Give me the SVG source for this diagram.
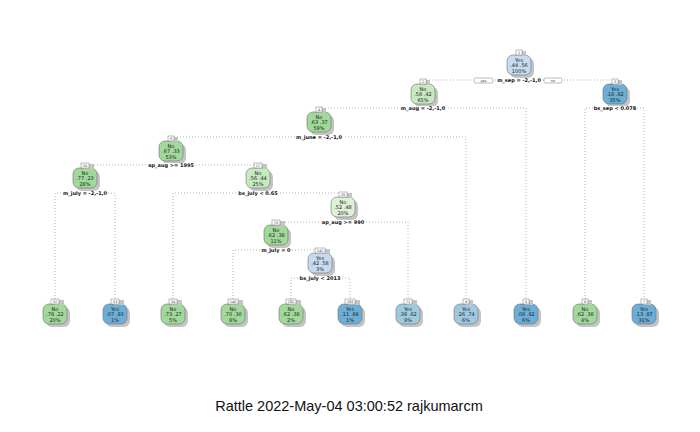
<svg xmlns="http://www.w3.org/2000/svg" width="700" height="432" viewBox="0 0 700 432">
<style>
text{font-family:"DejaVu Sans","Liberation Sans",sans-serif;fill:#222}
.t{font-size:5px;text-anchor:middle}
.s{font-size:5px;font-weight:bold;text-anchor:middle;fill:#111}
.n{font-size:3.5px;text-anchor:middle;fill:#444}
.sh{fill:#c4c4c4}
.bx{stroke:#6e6e6e;stroke-width:0.6}
.nb{fill:#fff;stroke:#777;stroke-width:0.5}
.nbs{fill:#c4c4c4}
.ln{fill:none;stroke:#a0a0a0;stroke-width:0.8;stroke-dasharray:1,2}
.bg{fill:#fff}
.g1{fill:#a1d99b}.g2{fill:#c7e9c0}.g3{fill:#dcf1d6}
.b1{fill:#6baed6}.b2{fill:#9ecae1}.b3{fill:#c6dbef}
.yn{fill:#fff;stroke:#777;stroke-width:0.5}
</style>
<rect width="700" height="432" fill="#fff"/>
<g id="connectors">
<path class="ln" d="M423,80H615"/>
<path class="ln" d="M319,108H526V299"/>
<path class="ln" d="M585,299V108H644V299"/>
<path class="ln" d="M171,137H466V299"/>
<path class="ln" d="M85,165H258"/>
<path class="ln" d="M55,299V193H115V299"/>
<path class="ln" d="M173,299V193H343"/>
<path class="ln" d="M276,222H408V299"/>
<path class="ln" d="M233,299V250H320"/>
<path class="ln" d="M291,299V278H350V299"/>
</g>
<g id="node1"><rect class="sh" x="510" y="58" width="24" height="20" rx="6"/><rect class="bx b3" x="507" y="55" width="24" height="20" rx="6"/><rect class="nbs" x="518" y="51" width="8" height="5"/><rect class="nb" x="516" y="50" width="6" height="5"/><text class="n" x="519" y="54">1</text><text class="t" x="519" y="61.5">Yes</text><text class="t" x="519" y="67">.44  .56</text><text class="t" x="519" y="72.5">100%</text></g>
<g id="node2"><rect class="sh" x="414" y="87" width="24" height="20" rx="6"/><rect class="bx g2" x="411" y="84" width="24" height="20" rx="6"/><rect class="nbs" x="422" y="80" width="8" height="5"/><rect class="nb" x="420" y="79" width="6" height="5"/><text class="n" x="423" y="83">2</text><text class="t" x="423" y="90.5">No</text><text class="t" x="423" y="96">.58  .42</text><text class="t" x="423" y="101.5">65%</text></g>
<g id="node3"><rect class="sh" x="606" y="87" width="24" height="20" rx="6"/><rect class="bx b1" x="603" y="84" width="24" height="20" rx="6"/><rect class="nbs" x="614" y="80" width="8" height="5"/><rect class="nb" x="612" y="79" width="6" height="5"/><text class="n" x="615" y="83">3</text><text class="t" x="615" y="90.5">Yes</text><text class="t" x="615" y="96">.18  .82</text><text class="t" x="615" y="101.5">35%</text></g>
<g id="node4"><rect class="sh" x="310" y="115" width="24" height="20" rx="6"/><rect class="bx g1" x="307" y="112" width="24" height="20" rx="6"/><rect class="nbs" x="318" y="108" width="8" height="5"/><rect class="nb" x="316" y="107" width="6" height="5"/><text class="n" x="319" y="111">4</text><text class="t" x="319" y="118.5">No</text><text class="t" x="319" y="124">.63  .37</text><text class="t" x="319" y="129.5">59%</text></g>
<g id="node8"><rect class="sh" x="162" y="144" width="24" height="20" rx="6"/><rect class="bx g1" x="159" y="141" width="24" height="20" rx="6"/><rect class="nbs" x="170" y="137" width="8" height="5"/><rect class="nb" x="168" y="136" width="6" height="5"/><text class="n" x="171" y="140">8</text><text class="t" x="171" y="147.5">No</text><text class="t" x="171" y="153">.67  .33</text><text class="t" x="171" y="158.5">53%</text></g>
<g id="node16"><rect class="sh" x="76" y="171" width="24" height="20" rx="6"/><rect class="bx g1" x="73" y="168" width="24" height="20" rx="6"/><rect class="nbs" x="84" y="164" width="10" height="5"/><rect class="nb" x="81" y="163" width="8" height="5"/><text class="n" x="85" y="167">16</text><text class="t" x="85" y="174.5">No</text><text class="t" x="85" y="180">.77  .23</text><text class="t" x="85" y="185.5">28%</text></g>
<g id="node17"><rect class="sh" x="249" y="171" width="24" height="20" rx="6"/><rect class="bx g2" x="246" y="168" width="24" height="20" rx="6"/><rect class="nbs" x="257" y="164" width="10" height="5"/><rect class="nb" x="254" y="163" width="8" height="5"/><text class="n" x="258" y="167">17</text><text class="t" x="258" y="174.5">No</text><text class="t" x="258" y="180">.56  .44</text><text class="t" x="258" y="185.5">25%</text></g>
<g id="node35"><rect class="sh" x="334" y="200" width="24" height="20" rx="6"/><rect class="bx g3" x="331" y="197" width="24" height="20" rx="6"/><rect class="nbs" x="342" y="193" width="10" height="5"/><rect class="nb" x="339" y="192" width="8" height="5"/><text class="n" x="343" y="196">35</text><text class="t" x="343" y="203.5">No</text><text class="t" x="343" y="209">.52  .48</text><text class="t" x="343" y="214.5">20%</text></g>
<g id="node70"><rect class="sh" x="267" y="228" width="24" height="20" rx="6"/><rect class="bx g1" x="264" y="225" width="24" height="20" rx="6"/><rect class="nbs" x="275" y="221" width="10" height="5"/><rect class="nb" x="272" y="220" width="8" height="5"/><text class="n" x="276" y="224">70</text><text class="t" x="276" y="231.5">No</text><text class="t" x="276" y="237">.62  .38</text><text class="t" x="276" y="242.5">11%</text></g>
<g id="node141"><rect class="sh" x="311" y="256" width="24" height="20" rx="6"/><rect class="bx b3" x="308" y="253" width="24" height="20" rx="6"/><rect class="nbs" x="318" y="249" width="12" height="5"/><rect class="nb" x="315" y="248" width="10" height="5"/><text class="n" x="320" y="252">141</text><text class="t" x="320" y="259.5">Yes</text><text class="t" x="320" y="265">.42  .58</text><text class="t" x="320" y="270.5">3%</text></g>
<g id="node32"><rect class="sh" x="46" y="307" width="24" height="20" rx="6"/><rect class="bx g1" x="43" y="304" width="24" height="20" rx="6"/><rect class="nbs" x="54" y="300" width="10" height="5"/><rect class="nb" x="51" y="299" width="8" height="5"/><text class="n" x="55" y="303">32</text><text class="t" x="55" y="310.5">No</text><text class="t" x="55" y="316">.78  .22</text><text class="t" x="55" y="321.5">20%</text></g>
<g id="node33"><rect class="sh" x="106" y="307" width="24" height="20" rx="6"/><rect class="bx b1" x="103" y="304" width="24" height="20" rx="6"/><rect class="nbs" x="114" y="300" width="10" height="5"/><rect class="nb" x="111" y="299" width="8" height="5"/><text class="n" x="115" y="303">33</text><text class="t" x="115" y="310.5">Yes</text><text class="t" x="115" y="316">.07  .93</text><text class="t" x="115" y="321.5">1%</text></g>
<g id="node34"><rect class="sh" x="164" y="307" width="24" height="20" rx="6"/><rect class="bx g1" x="161" y="304" width="24" height="20" rx="6"/><rect class="nbs" x="172" y="300" width="10" height="5"/><rect class="nb" x="169" y="299" width="8" height="5"/><text class="n" x="173" y="303">34</text><text class="t" x="173" y="310.5">No</text><text class="t" x="173" y="316">.73  .27</text><text class="t" x="173" y="321.5">5%</text></g>
<g id="node140"><rect class="sh" x="224" y="307" width="24" height="20" rx="6"/><rect class="bx g1" x="221" y="304" width="24" height="20" rx="6"/><rect class="nbs" x="231" y="300" width="12" height="5"/><rect class="nb" x="228" y="299" width="10" height="5"/><text class="n" x="233" y="303">140</text><text class="t" x="233" y="310.5">No</text><text class="t" x="233" y="316">.70  .30</text><text class="t" x="233" y="321.5">8%</text></g>
<g id="node282"><rect class="sh" x="282" y="307" width="24" height="20" rx="6"/><rect class="bx g1" x="279" y="304" width="24" height="20" rx="6"/><rect class="nbs" x="289" y="300" width="12" height="5"/><rect class="nb" x="286" y="299" width="10" height="5"/><text class="n" x="291" y="303">282</text><text class="t" x="291" y="310.5">No</text><text class="t" x="291" y="316">.62  .38</text><text class="t" x="291" y="321.5">2%</text></g>
<g id="node283"><rect class="sh" x="341" y="307" width="24" height="20" rx="6"/><rect class="bx b1" x="338" y="304" width="24" height="20" rx="6"/><rect class="nbs" x="348" y="300" width="12" height="5"/><rect class="nb" x="345" y="299" width="10" height="5"/><text class="n" x="350" y="303">283</text><text class="t" x="350" y="310.5">Yes</text><text class="t" x="350" y="316">.11  .89</text><text class="t" x="350" y="321.5">1%</text></g>
<g id="node71"><rect class="sh" x="399" y="307" width="24" height="20" rx="6"/><rect class="bx b2" x="396" y="304" width="24" height="20" rx="6"/><rect class="nbs" x="407" y="300" width="10" height="5"/><rect class="nb" x="404" y="299" width="8" height="5"/><text class="n" x="408" y="303">71</text><text class="t" x="408" y="310.5">Yes</text><text class="t" x="408" y="316">.38  .62</text><text class="t" x="408" y="321.5">9%</text></g>
<g id="node9"><rect class="sh" x="457" y="307" width="24" height="20" rx="6"/><rect class="bx b2" x="454" y="304" width="24" height="20" rx="6"/><rect class="nbs" x="465" y="300" width="8" height="5"/><rect class="nb" x="463" y="299" width="6" height="5"/><text class="n" x="466" y="303">9</text><text class="t" x="466" y="310.5">Yes</text><text class="t" x="466" y="316">.26  .74</text><text class="t" x="466" y="321.5">6%</text></g>
<g id="node5"><rect class="sh" x="517" y="307" width="24" height="20" rx="6"/><rect class="bx b1" x="514" y="304" width="24" height="20" rx="6"/><rect class="nbs" x="525" y="300" width="8" height="5"/><rect class="nb" x="523" y="299" width="6" height="5"/><text class="n" x="526" y="303">5</text><text class="t" x="526" y="310.5">Yes</text><text class="t" x="526" y="316">.08  .92</text><text class="t" x="526" y="321.5">6%</text></g>
<g id="node6"><rect class="sh" x="576" y="307" width="24" height="20" rx="6"/><rect class="bx g1" x="573" y="304" width="24" height="20" rx="6"/><rect class="nbs" x="584" y="300" width="8" height="5"/><rect class="nb" x="582" y="299" width="6" height="5"/><text class="n" x="585" y="303">6</text><text class="t" x="585" y="310.5">No</text><text class="t" x="585" y="316">.62  .38</text><text class="t" x="585" y="321.5">4%</text></g>
<g id="node7"><rect class="sh" x="635" y="307" width="24" height="20" rx="6"/><rect class="bx b1" x="632" y="304" width="24" height="20" rx="6"/><rect class="nbs" x="643" y="300" width="8" height="5"/><rect class="nb" x="641" y="299" width="6" height="5"/><text class="n" x="644" y="303">7</text><text class="t" x="644" y="310.5">Yes</text><text class="t" x="644" y="316">.13  .87</text><text class="t" x="644" y="321.5">31%</text></g>
<g id="splits">
<rect class="bg" x="496" y="78" width="46" height="5"/>
<text class="s" x="519" y="82">m_sep = -2,-1,0</text>
<rect class="yn" x="474" y="78" width="19" height="5" rx="1.5"/>
<text class="n" x="483.5" y="82">yes</text>
<rect class="yn" x="544" y="78" width="18" height="5" rx="1.5"/>
<text class="n" x="553" y="82">no</text>
<rect class="bg" x="400" y="106" width="46" height="5"/>
<text class="s" x="423" y="110">m_aug = -2,-1,0</text>
<rect class="bg" x="593" y="106" width="44" height="5"/>
<text class="s" x="615" y="110">bs_sep &lt; 0.078</text>
<rect class="bg" x="295" y="135" width="48" height="5"/>
<text class="s" x="319" y="139">m_june = -2,-1,0</text>
<rect class="bg" x="149" y="163" width="45" height="5"/>
<text class="s" x="171" y="167">ap_aug &gt;= 1995</text>
<rect class="bg" x="62" y="191" width="46" height="5"/>
<text class="s" x="85" y="195">m_july = -2,-1,0</text>
<rect class="bg" x="237" y="191" width="42" height="5"/>
<text class="s" x="258" y="195">bs_july &lt; 0.65</text>
<rect class="bg" x="322" y="220" width="43" height="5"/>
<text class="s" x="343" y="224">ap_aug &gt;= 990</text>
<rect class="bg" x="260" y="248" width="32" height="5"/>
<text class="s" x="276" y="252">m_july = 0</text>
<rect class="bg" x="298" y="276" width="44" height="5"/>
<text class="s" x="320" y="280">bs_july &lt; 2013</text>
</g>
<text x="349" y="411" style="font-family:'Liberation Sans',Arial,sans-serif;font-size:14.5px;text-anchor:middle;fill:#111">Rattle 2022-May-04 03:00:52 rajkumarcm</text>
</svg>
